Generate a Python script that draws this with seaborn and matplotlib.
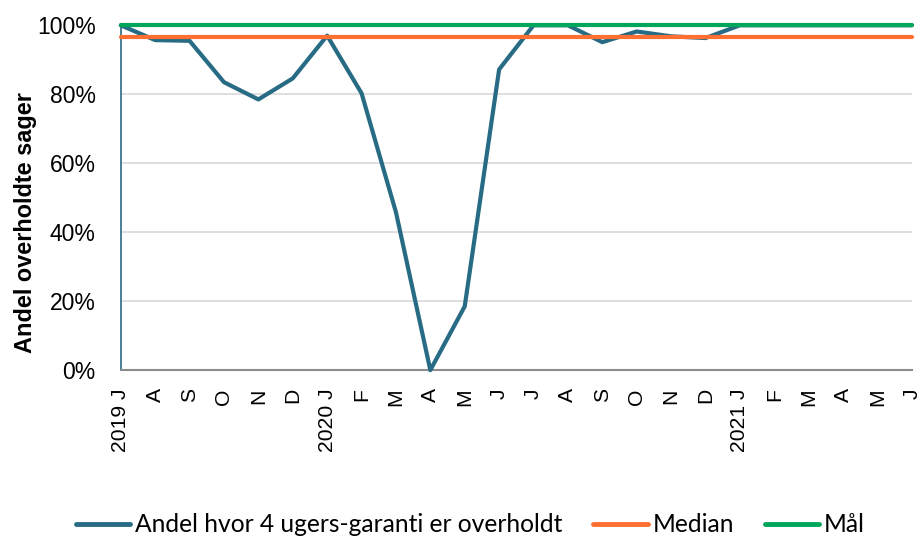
import pandas as pd
import matplotlib
matplotlib.use("Agg")
import matplotlib.pyplot as plt
from matplotlib.ticker import PercentFormatter
import seaborn as sns

# Month labels (July 2019 - June 2021)
months = ["2019 J", "A", "S", "O", "N", "D", "2020 J", "F", "M", "A", "M", "J",
          "J", "A", "S", "O", "N", "D", "2021 J", "F", "M", "A", "M", "J"]

# Share of cases where the 4-week guarantee was kept
andel = [1.00, 0.957, 0.955, 0.835, 0.785, 0.846, 0.97, 0.803, 0.458, 0.0, 0.185, 0.872,
         1.00, 1.00, 0.951, 0.982, 0.968, 0.963, 1.00, 1.00, 1.00, 1.00, 1.00, 1.00]
median_value = 0.965
goal_value = 1.00

df = pd.DataFrame({
    "pos": range(len(months)),
    "Andel hvor 4 ugers-garanti er overholdt": andel,
    "Median": [median_value] * len(months),
    "Mål": [goal_value] * len(months),
})
long_df = df.melt(id_vars="pos", var_name="serie", value_name="andel")

sns.set_style("white")

fig, ax = plt.subplots(figsize=(9.22, 5.38), dpi=100)
fig.subplots_adjust(left=0.131, right=0.989, top=0.953, bottom=0.312)

palette = {"Andel hvor 4 ugers-garanti er overholdt": "#276B84",
           "Median": "#FF6F31",
           "Mål": "#00A65A"}
sns.lineplot(data=long_df, x="pos", y="andel", hue="serie", palette=palette,
             linewidth=3, ax=ax, legend=False,
             hue_order=list(palette.keys()))

# keep lines unclipped at 100% and stack goal/median on top
for z, line in enumerate(ax.lines):
    line.set_clip_on(False)
    line.set_zorder(3 + z)

ax.set_xlim(0, len(months) - 1)
ax.set_ylim(0, 1.0)
ax.set_yticks([0, 0.2, 0.4, 0.6, 0.8, 1.0])
ax.yaxis.set_major_formatter(PercentFormatter(1.0, decimals=0))
ax.set_xticks(range(len(months)))
ax.set_xticklabels(months, rotation=90, fontsize=15.2, family="Liberation Sans")
for lbl in ax.get_yticklabels():
    lbl.set_fontsize(16.5)
    lbl.set_family("Liberation Sans")

ax.set_xlabel("")
ax.set_ylabel("Andel overholdte sager", fontsize=16.9, fontweight="bold",
              family="Liberation Sans", color="black")
ax.yaxis.set_label_coords(-0.106, (370 - 222.5) / 345)

ax.grid(axis="y", color="#D9D9D9", linewidth=1.2)
ax.set_axisbelow(True)
for side in ["top", "right"]:
    ax.spines[side].set_visible(False)
ax.spines["left"].set_color("#276B84")
ax.spines["bottom"].set_color("#8C8C8C")
ax.spines["left"].set_linewidth(1.2)
ax.spines["bottom"].set_linewidth(1.5)
ax.tick_params(axis="x", length=5, color="#8C8C8C", width=1.5, pad=8,
               labelcolor="black")
ax.tick_params(axis="y", length=7, color="#276B84", width=1.2, pad=11,
               labelcolor="black")

handles = [plt.Line2D([], [], color=palette[k], linewidth=3.5)
           for k in palette]
leg = fig.legend(handles, list(palette.keys()), loc="center",
                 bbox_to_anchor=(0.5103, 1 - 525 / 538), ncol=3, frameon=False,
                 prop={"family": "Lato", "size": 17.7}, handlelength=2.2,
                 handletextpad=0.2, columnspacing=1.25, borderpad=0)
for t in leg.get_texts():
    t.set_color("black")

fig.savefig("out.png", dpi=100)
